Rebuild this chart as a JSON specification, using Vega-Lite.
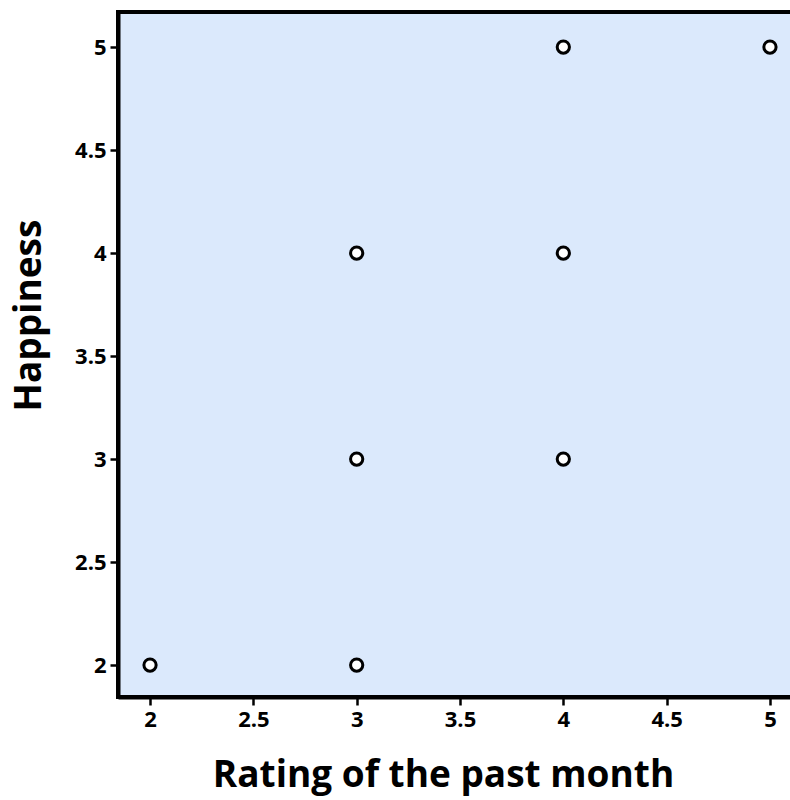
{
  "$schema": "https://vega.github.io/schema/vega-lite/v6.json",
  "autosize": "none",
  "padding": {"left": 118, "top": 12, "right": 0, "bottom": 103},
  "width": 684,
  "height": 685,
  "background": "white",
  "config": {
    "view": {"fill": "#dbe9fc", "stroke": "black", "strokeWidth": 4}
  },
  "data": {"values": [
    {"rating": 2, "happiness": 2},
    {"rating": 3, "happiness": 2},
    {"rating": 3, "happiness": 3},
    {"rating": 3, "happiness": 4},
    {"rating": 4, "happiness": 3},
    {"rating": 4, "happiness": 4},
    {"rating": 4, "happiness": 5},
    {"rating": 5, "happiness": 5}
  ]},
  "mark": {"type": "point", "shape": "circle", "filled": false, "fill": "white", "fillOpacity": 1, "stroke": "black", "strokeWidth": 3, "size": 150, "opacity": 1},
  "encoding": {
    "x": {"field": "rating", "type": "quantitative", "title": "Rating of the past month",
      "scale": {"domain": [1.845, 5.155], "nice": false, "zero": false},
      "axis": {"values": [2, 2.5, 3, 3.5, 4, 4.5, 5], "format": "~g", "grid": false,
        "domainColor": "black", "domainWidth": 4, "tickColor": "black", "tickWidth": 2.5, "tickSize": 8,
        "labelFont": "Open Sans", "labelFontWeight": "bold", "labelFontSize": 22, "labelColor": "black", "labelPadding": 4,
        "titleFont": "Open Sans", "titleFontWeight": "bold", "titleFontSize": 37, "titleColor": "black", "titlePadding": 27,
        "titleX": 325, "titleAlign": "center", "titleAnchor": null}},
    "y": {"field": "happiness", "type": "quantitative", "title": "Happiness",
      "scale": {"domain": [1.845, 5.17], "nice": false, "zero": false},
      "axis": {"values": [2, 2.5, 3, 3.5, 4, 4.5, 5], "format": "~g", "grid": false,
        "domainColor": "black", "domainWidth": 4, "tickColor": "black", "tickWidth": 2.5, "tickSize": 8,
        "labelFont": "Open Sans", "labelFontWeight": "bold", "labelFontSize": 22, "labelColor": "black", "labelPadding": 4,
        "titleFont": "Open Sans", "titleFontWeight": "bold", "titleFontSize": 37, "titleColor": "black", "titlePadding": 26,
        "titleY": 303, "titleAlign": "center"}}
  }
}
